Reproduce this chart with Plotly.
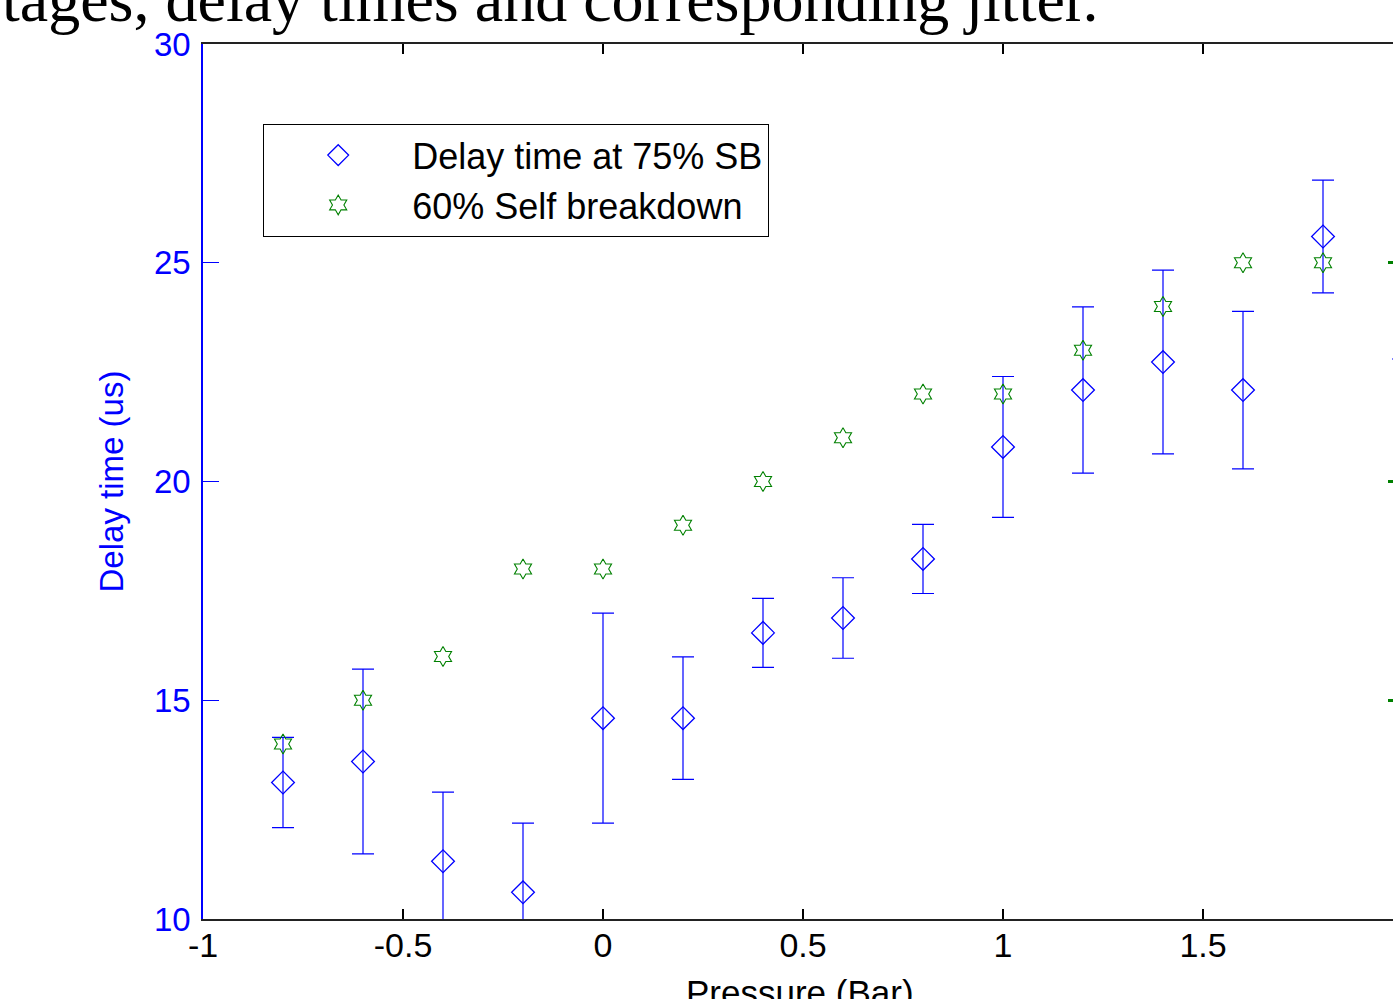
import plotly.graph_objects as go

# ---- data ----
pressure = [-0.8, -0.6, -0.4, -0.2, 0.0, 0.2, 0.4, 0.6, 0.8, 1.0, 1.2, 1.4, 1.6, 1.8, 2.0]
delay_75 = [13.12, 13.60, 11.32, 10.61, 14.59, 14.59, 16.54, 16.88, 18.23, 20.79, 22.09, 22.73, 22.09, 25.60, 23.90]
jitter = [1.03, 2.11, 1.58, 1.58, 2.40, 1.40, 0.79, 0.92, 0.79, 1.61, 1.90, 2.10, 1.80, 1.29, 1.10]
self_bd_60 = [14, 15, 16, 18, 18, 19, 20, 21, 22, 22, 23, 24, 25, 25, None]

x_ticks = [-1, -0.5, 0, 0.5, 1, 1.5, 2]
x_ticktext = ["-1", "-0.5", "0", "0.5", "1", "1.5", "2"]
y_ticks = [10, 15, 20, 25, 30]

BLUE = "#0000FF"
GREEN = "#008000"
W, H = 1393, 999
L, R, T, B = 203, 0, 44, 80
plot_w = W - L - R
plot_h = H - T - B
x_min = -1.0
x_max = x_min + 3.0 * plot_w / 1200.0  # axis spans -1..2 over 1200 px, cropped at the window edge

fig = go.Figure()

# main series (clipped to the axes)
fig.add_trace(go.Scatter(
    x=pressure[:-1], y=delay_75[:-1],
    mode="markers", name="Delay time at 75% SB",
    marker=dict(symbol="diamond-open", size=17.5, color=BLUE, line=dict(width=1.3, color=BLUE)),
    error_y=dict(type="data", array=jitter[:-1], visible=True, color=BLUE, thickness=1.2, width=11),
    cliponaxis=True,
))
fig.add_trace(go.Scatter(
    x=pressure[:-1], y=self_bd_60[:-1],
    mode="markers", name="60% Self breakdown",
    marker=dict(symbol="hexagram-open", size=15, color=GREEN, line=dict(width=1.1, color=GREEN)),
    cliponaxis=True,
))
# last point sits just beyond the visible edge of the chart
fig.add_trace(go.Scatter(
    x=pressure[-1:], y=delay_75[-1:],
    mode="markers", showlegend=False,
    marker=dict(symbol="diamond-open", size=17.5, color=BLUE, line=dict(width=1.3, color=BLUE)),
    error_y=dict(type="data", array=jitter[-1:], visible=True, color=BLUE, thickness=1.2, width=11),
    cliponaxis=False,
))
# secondary (right) axis carrying the green ticks
fig.add_trace(go.Scatter(x=[None], y=[None], yaxis="y2", showlegend=False, hoverinfo="skip"))

# caption text of the page above the figure (cut off at the top)
fig.add_annotation(
    text="tages, delay times and corresponding jitter.",
    xref="paper", yref="paper", x=-L / plot_w, y=1 + (T + 38) / plot_h,
    xanchor="left", yanchor="top", showarrow=False,
    font=dict(family="Liberation Serif, Times New Roman, serif", size=64, color="black"),
)
# x-axis title (runs off the bottom edge, as in the reference)
fig.add_annotation(
    text="Pressure (Bar)",
    xref="paper", yref="paper", x=(800 - L) / plot_w, y=-(971 - (H - B)) / plot_h,
    xanchor="center", yanchor="top", showarrow=False,
    font=dict(family="Liberation Sans, Arial, sans-serif", size=35, color="black"),
)

fig.update_layout(
    width=W, height=H,
    margin=dict(l=L, r=R, t=T, b=B, pad=0, autoexpand=False),
    paper_bgcolor="white", plot_bgcolor="white",
    font=dict(family="Liberation Sans, Arial, sans-serif", size=32, color="black"),
    showlegend=True,
    legend=dict(
        x=(263 - L) / plot_w, y=(H - B - 124) / plot_h, xanchor="left", yanchor="top",
        bgcolor="white", bordercolor="black", borderwidth=1.2,
        font=dict(size=36, color="black"), itemwidth=138, tracegroupgap=0,
    ),
    xaxis=dict(
        range=[x_min, x_max], tickmode="array", tickvals=x_ticks, ticktext=x_ticktext,
        showgrid=False, zeroline=False, showline=True, linecolor="#222222", linewidth=1.6,
        mirror="ticks", ticks="inside", ticklen=10, tickcolor="black", tickwidth=1.5,
        tickfont=dict(size=34, color="black"), automargin=False, ticklabelstandoff=-5,
    ),
    yaxis=dict(
        range=[10, 30], tickmode="array", tickvals=y_ticks,
        showgrid=False, zeroline=False, showline=True, linecolor=BLUE, linewidth=1.5,
        ticks="inside", ticklen=16, tickcolor=BLUE, tickwidth=1.2,
        tickfont=dict(size=33, color=BLUE), automargin=False, ticklabelstandoff=4,
        title=dict(text="Delay time (us)", font=dict(size=33, color=BLUE), standoff=20),
    ),
    yaxis2=dict(
        range=[10, 30], tickmode="array", tickvals=y_ticks, overlaying="y", side="right",
        showgrid=False, zeroline=False, showline=False, showticklabels=False,
        ticks="inside", ticklen=5, tickcolor=GREEN, tickwidth=2.5, automargin=False,
    ),
)

fig.write_html("out.html")
